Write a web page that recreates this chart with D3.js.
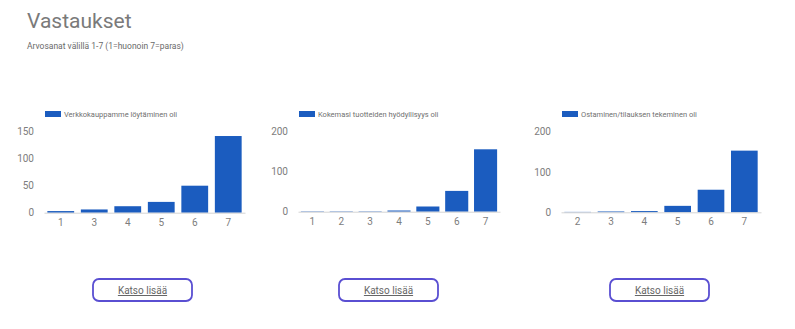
<!DOCTYPE html>
<html lang="fi">
<head>
<meta charset="utf-8">
<title>Vastaukset</title>
<script src="https://cdn.jsdelivr.net/npm/d3@7"></script>
<style>
  html, body { margin: 0; padding: 0; background: #fff; }
  svg { display: block; font-family: Roboto, "Noto Sans", sans-serif; }
  .tick text { fill: #7d7d7d; }
</style>
</head>
<body>
<svg id="chart" width="795" height="329"></svg>
<script>
// Answer distributions per question (grades 1–7)
const cats1 = ["1", "3", "4", "5", "6", "7"];
const vals1 = [3, 6, 12, 20, 50, 142];
const label1 = "Verkkokauppamme löytäminen oli";
const ticks1 = [0, 50, 100, 150];

const cats2 = ["1", "2", "3", "4", "5", "6", "7"];
const vals2 = [1, 1, 1, 3, 13, 52, 156];
const label2 = "Kokemasi tuotteiden hyödyllisyys oli";
const ticks2 = [0, 100, 200];

const cats3 = ["2", "3", "4", "5", "6", "7"];
const vals3 = [1, 2, 3, 16, 56, 153];
const label3 = "Ostaminen/tilauksen tekeminen oli";
const ticks3 = [0, 100, 200];

const titleText = "Vastaukset";
const subtitleText = "Arvosanat välillä 1-7 (1=huonoin 7=paras)";
const buttonText = "Katso lisää";

const BAR = "#1b5cbf";
const svg = d3.select("#chart");

svg.append("text").attr("x", 27).attr("y", 28)
  .attr("font-size", 21).attr("fill", "#7a7a7a").text(titleText);
svg.append("text").attr("x", 27).attr("y", 49)
  .attr("font-size", 8.5).attr("fill", "#6a6a6a").text(subtitleText);

const panels = [
  { cats: cats1, vals: vals1, label: label1, ticks: ticks1, x0: 44, x1: 245, base: 212.7, btn: 93 },
  { cats: cats2, vals: vals2, label: label2, ticks: ticks2, x0: 298, x1: 500, base: 211.7, btn: 339 },
  { cats: cats3, vals: vals3, label: label3, ticks: ticks3, x0: 561, x1: 761, base: 212.3, btn: 610 }
];

panels.forEach(p => {
  const g = svg.append("g");
  const x = d3.scaleBand().domain(p.cats).range([p.x0, p.x1])
    .paddingInner(0.2).paddingOuter(0.1);
  const y = d3.scaleLinear().domain([0, d3.max(p.ticks)]).range([p.base, 131.7]);

  // legend
  g.append("rect").attr("x", p.x0 + 1).attr("y", 111).attr("width", 16).attr("height", 6)
    .attr("fill", BAR);
  g.append("text").attr("x", p.x0 + 20).attr("y", 117)
    .attr("font-size", 7.5).attr("fill", "#707070").text(p.label);

  // y axis labels
  const ya = g.append("g").attr("transform", `translate(${p.x0 - 8},0)`)
    .call(d3.axisLeft(y).tickValues(p.ticks).tickSize(0).tickPadding(2));
  ya.select(".domain").remove();
  ya.selectAll("text").attr("font-size", 10).attr("font-family", "Roboto, sans-serif");

  // bars
  g.selectAll("rect.bar").data(p.vals).join("rect").attr("class", "bar")
    .attr("x", (d, i) => x(p.cats[i]))
    .attr("width", x.bandwidth())
    .attr("y", d => y(d))
    .attr("height", d => y(0) - y(d))
    .attr("fill", BAR);

  // x axis
  const xa = g.append("g").attr("transform", `translate(0,${p.base})`)
    .call(d3.axisBottom(x).tickSize(0).tickPadding(6));
  xa.select(".domain").attr("stroke", "#d4d4d4").attr("stroke-width", 1);
  xa.selectAll("text").attr("font-size", 10).attr("font-family", "Roboto, sans-serif");

  // "Katso lisää" button
  const b = svg.append("g").attr("transform", `translate(${p.btn},279)`);
  b.append("rect").attr("width", 99).attr("height", 22).attr("rx", 6)
    .attr("fill", "#fff").attr("stroke", "#5a4fd2").attr("stroke-width", 1.8);
  b.append("text").attr("x", 49.5).attr("y", 15).attr("text-anchor", "middle")
    .attr("font-size", 10).attr("fill", "#666").attr("text-decoration", "underline")
    .text(buttonText);
});
</script>
</body>
</html>
